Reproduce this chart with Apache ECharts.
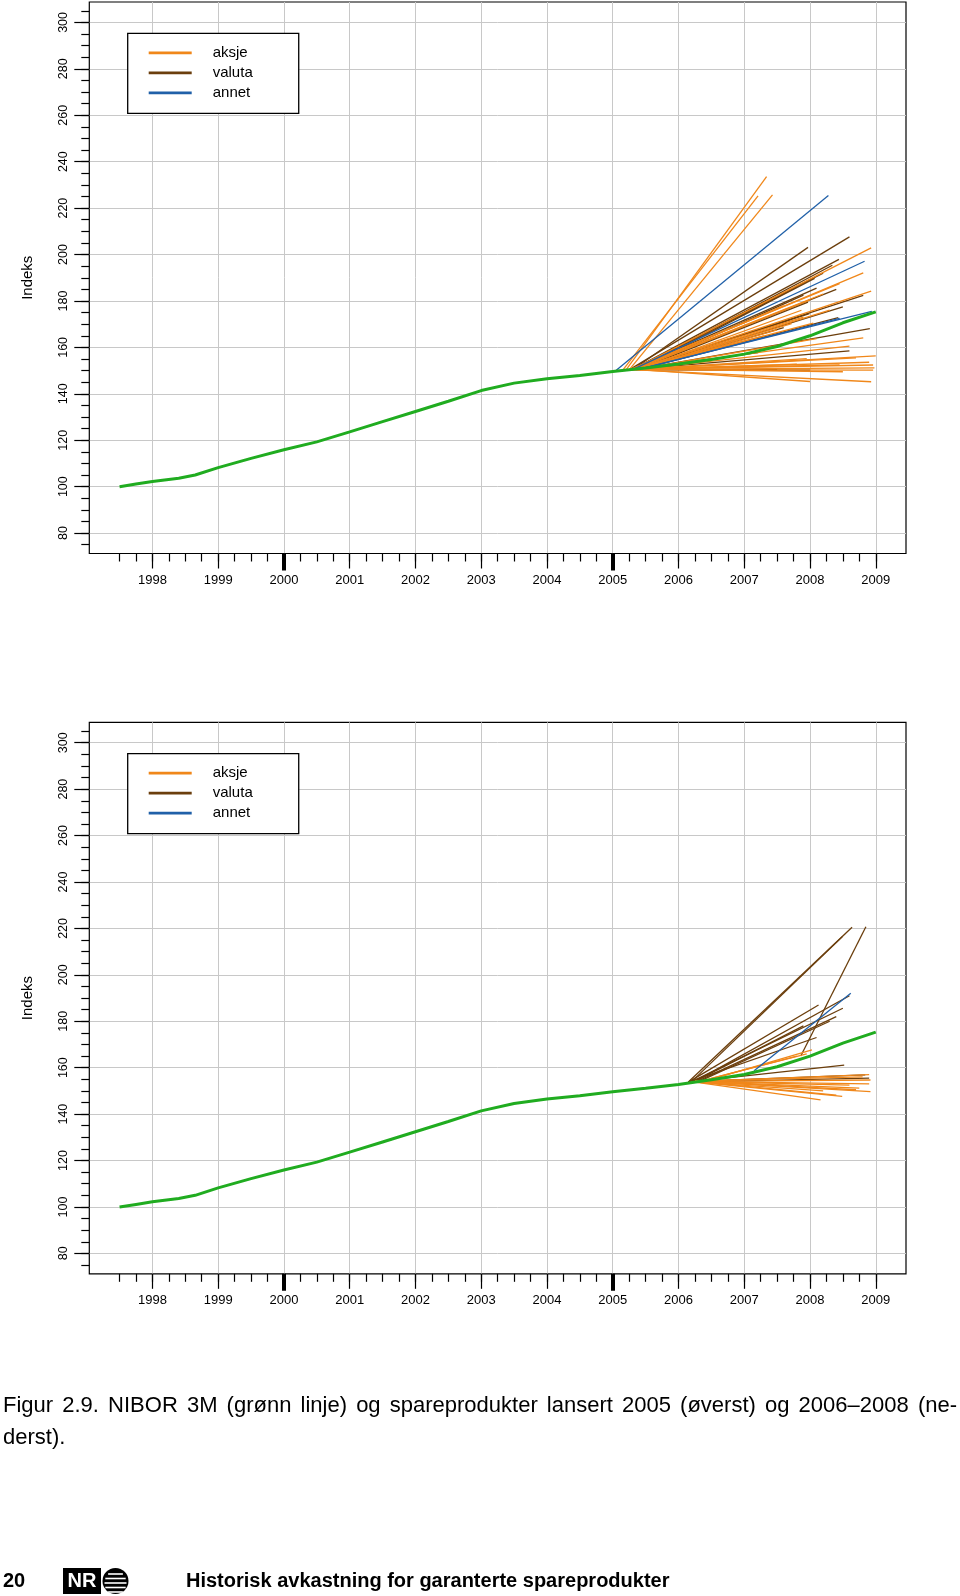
<!DOCTYPE html>
<html><head><meta charset="utf-8">
<script src="https://cdn.jsdelivr.net/npm/echarts@6/dist/echarts.min.js"></script>
<style>html,body{margin:0;padding:0;background:#fff}#c{width:960px;height:1596px}</style>
</head><body><div id="c"></div>
<script>
// ---------- DATA ----------
const yearTicks = [1998, 1999, 2000, 2001, 2002, 2003, 2004, 2005, 2006, 2007, 2008, 2009];
const boldYearTicks = [2000, 2005];
const yTicks = [80, 100, 120, 140, 160, 180, 200, 220, 240, 260, 280, 300];
const legendNames = ['aksje', 'valuta', 'annet'];

// NIBOR 3M index (green line): [year, index]
const nibor = [
  [1997.5, 100.0], [1997.75, 101.1], [1998.0, 102.2], [1998.4, 103.6], [1998.65, 105.0],
  [1999.0, 108.2], [1999.5, 112.2], [2000.0, 115.9], [2000.5, 119.3], [2001.0, 123.6],
  [2001.5, 128.0], [2002.0, 132.4], [2002.5, 136.8], [2003.0, 141.4], [2003.5, 144.6],
  [2004.0, 146.5], [2004.5, 147.9], [2005.0, 149.6], [2005.5, 151.1], [2006.0, 152.8],
  [2006.5, 154.8], [2007.0, 157.1], [2007.5, 160.4], [2008.0, 165.0], [2008.5, 170.6],
  [2009.0, 175.3]
];

// Products: [startYear, startValue, endYear, endValue]
const aksje2005 = [
  [2005.20, 150.2, 2007.34, 233.6], [2005.15, 150.1, 2007.21, 225.3], [2005.25, 150.3, 2007.43, 225.7],
  [2005.30, 150.4, 2008.93, 202.9], [2005.30, 150.4, 2008.81, 192.1], [2005.35, 150.5, 2008.93, 184.2],
  [2005.25, 150.3, 2008.45, 187.5], [2005.30, 150.4, 2008.20, 183.0], [2005.35, 150.5, 2008.00, 180.5],
  [2005.30, 150.4, 2007.60, 178.0], [2005.40, 150.6, 2007.87, 176.0], [2005.35, 150.5, 2008.05, 170.5],
  [2005.40, 150.6, 2007.72, 170.2], [2005.45, 150.8, 2007.50, 167.5], [2005.40, 150.6, 2008.81, 164.1],
  [2005.45, 150.8, 2008.10, 163.8], [2005.50, 151.0, 2008.60, 160.5],
  [2005.30, 150.4, 2007.30, 165.0], [2005.35, 150.5, 2007.00, 162.0], [2005.40, 150.6, 2008.30, 176.0],
  [2005.30, 150.4, 2007.90, 173.0],
  [2005.30, 150.4, 2009.00, 156.3], [2005.35, 150.5, 2008.70, 155.5], [2005.40, 150.6, 2007.95, 155.2],
  [2005.30, 150.4, 2008.90, 153.6], [2005.35, 150.5, 2008.96, 152.4], [2005.40, 150.6, 2008.45, 152.5],
  [2005.30, 150.4, 2008.98, 151.2], [2005.35, 150.5, 2007.80, 152.8], [2005.30, 150.4, 2008.96, 150.2],
  [2005.40, 150.6, 2008.50, 149.5], [2005.30, 150.4, 2008.93, 145.2], [2005.35, 150.5, 2008.00, 145.3]
];
const valuta2005 = [
  [2005.25, 150.3, 2008.60, 207.6], [2005.30, 150.4, 2007.97, 203.1], [2005.30, 150.4, 2008.44, 197.9],
  [2005.35, 150.5, 2008.34, 195.4], [2005.30, 150.4, 2008.20, 192.0], [2005.40, 150.6, 2008.07, 189.7],
  [2005.35, 150.5, 2007.80, 186.0], [2005.35, 150.5, 2008.40, 185.0], [2005.40, 150.6, 2007.90, 182.5],
  [2005.35, 150.5, 2008.81, 182.4], [2005.40, 150.6, 2007.97, 179.5], [2005.45, 150.8, 2008.50, 177.5],
  [2005.40, 150.6, 2007.99, 174.5], [2005.45, 150.8, 2008.43, 172.8], [2005.45, 150.8, 2007.60, 168.5],
  [2005.40, 150.6, 2008.91, 168.1], [2005.50, 151.0, 2008.60, 158.5], [2005.30, 150.4, 2007.21, 157.7],
  [2005.35, 150.5, 2007.70, 172.0], [2005.30, 150.4, 2008.10, 185.5],
  [2005.30, 150.4, 2008.00, 150.2], [2005.35, 150.5, 2007.50, 150.5]
];
const annet2005 = [
  [2005.04, 149.8, 2008.28, 225.4], [2005.30, 150.4, 2008.83, 197.1],
  [2005.45, 150.8, 2008.45, 172.5], [2005.40, 150.6, 2008.94, 175.5]
];

const aksje0608 = [
  [2006.60, 155.8, 2008.03, 167.7], [2006.50, 155.4, 2007.95, 166.0], [2006.40, 154.6, 2007.80, 165.0],
  [2006.25, 154.1, 2008.92, 154.7], [2006.25, 154.1, 2008.75, 151.2], [2006.25, 154.1, 2008.92, 149.7],
  [2006.20, 154.0, 2008.49, 147.6], [2006.20, 154.0, 2008.16, 146.1], [2006.25, 154.1, 2008.40, 148.2],
  [2006.25, 154.1, 2008.90, 153.0], [2006.25, 154.1, 2008.60, 152.5], [2006.30, 154.3, 2008.80, 156.0],
  [2006.20, 154.0, 2008.20, 150.0], [2006.25, 154.1, 2008.70, 150.5], [2006.25, 154.1, 2008.90, 157.0]
];
const valuta0608 = [
  [2006.15, 153.8, 2008.64, 220.5], [2006.20, 154.0, 2008.49, 216.4], [2007.86, 165.0, 2008.85, 220.7],
  [2006.15, 153.8, 2008.13, 187.0], [2006.20, 154.0, 2008.50, 185.6], [2006.25, 154.1, 2008.60, 191.0],
  [2006.15, 153.8, 2008.10, 173.0], [2006.25, 154.1, 2008.52, 161.1], [2006.25, 154.1, 2008.84, 156.9],
  [2006.30, 154.3, 2008.40, 182.0], [2006.25, 154.1, 2007.90, 178.0], [2006.35, 154.5, 2008.30, 180.0],
  [2006.15, 153.8, 2008.90, 155.5]
];
const annet0608 = [
  [2007.15, 158.7, 2008.62, 192.1]
];

const caption1 = 'Figur 2.9. NIBOR 3M (grønn linje) og spareprodukter lansert 2005 (øverst) og 2006–2008 (ne-';
const caption2 = 'derst).';
const footerPage = '20';
const footerTitle = 'Historisk avkastning for garanterte spareprodukter';

// ---------- STYLE / LAYOUT ----------
const FONT = '"Liberation Sans", Arial, Helvetica, sans-serif';
const COL = { aksje: '#F0871A', valuta: '#6B3E0C', annet: '#2060A8', nibor: '#20AC20' };
const X_MIN = 1997.04, X_MAX = 2009.46;
const Y_MIN = 71.2, Y_MAX = 308.8;
const GRID_LEFT = 89.3, GRID_W = 816.7, GRID_H = 551.5;
const PANEL_TOPS = [2, 722.3];

const quarterTicks = [];
for (let q = 1997.5; q <= 2009.001; q += 0.25) quarterTicks.push(+q.toFixed(2));
const minorY = [];
for (let v = 75; v <= 305; v += 5) minorY.push(v);

const grids = [], xAxes = [], yAxes = [], series = [], legends = [];
PANEL_TOPS.forEach((top, p) => {
  grids.push({ left: GRID_LEFT, top: top, width: GRID_W, height: GRID_H, show: true,
    borderColor: '#000', borderWidth: 1.2, backgroundColor: 'transparent' });
  const base = { gridIndex: p, type: 'value', min: X_MIN, max: X_MAX, position: 'bottom',
    axisLine: { show: false } };
  xAxes.push(Object.assign({}, base, {
    axisTick: { show: true, length: 15, customValues: yearTicks, lineStyle: { color: '#000', width: 1.2 } },
    axisLabel: { show: true, customValues: yearTicks, margin: 20.5, fontSize: 13, color: '#000', fontFamily: FONT,
      formatter: v => String(v) },
    splitLine: { show: true, lineStyle: { color: '#c8c8c8', width: 1 } }
  }));
  xAxes.push(Object.assign({}, base, {
    axisTick: { show: true, length: 8, customValues: quarterTicks, lineStyle: { color: '#000', width: 1.2 } },
    axisLabel: { show: false }, splitLine: { show: false }
  }));
  xAxes.push(Object.assign({}, base, {
    axisTick: { show: true, length: 17, customValues: boldYearTicks, lineStyle: { color: '#000', width: 4 } },
    axisLabel: { show: false }, splitLine: { show: false }
  }));
  const ybase = { gridIndex: p, type: 'value', min: Y_MIN, max: Y_MAX, position: 'left', axisLine: { show: false } };
  yAxes.push(Object.assign({}, ybase, {
    name: 'Indeks', nameLocation: 'middle', nameGap: 54,
    nameTextStyle: { fontSize: 15, color: '#000', fontFamily: FONT },
    axisTick: { show: true, length: 15, customValues: yTicks, lineStyle: { color: '#000', width: 1.2 } },
    axisLabel: { show: true, customValues: yTicks, rotate: 90, margin: 19.5, fontSize: 12.5, color: '#000', fontFamily: FONT,
      formatter: v => String(v) },
    splitLine: { show: true, lineStyle: { color: '#c8c8c8', width: 1 } }
  }));
  yAxes.push(Object.assign({}, ybase, {
    axisTick: { show: true, length: 8, customValues: minorY, lineStyle: { color: '#000', width: 1.2 } },
    axisLabel: { show: false }, splitLine: { show: false }
  }));

  const groups = p === 0
    ? [['valuta', valuta2005], ['aksje', aksje2005], ['annet', annet2005]]
    : [['valuta', valuta0608], ['aksje', aksje0608], ['annet', annet0608]];
  groups.forEach(([name, arr], gi) => {
    series.push({
      type: 'lines', name: name, coordinateSystem: 'cartesian2d', xAxisIndex: p * 3, yAxisIndex: p * 2,
      silent: true, z: 3 + gi,
      lineStyle: { color: COL[name], width: 1.3, opacity: 1 },
      data: arr.map(d => ({ coords: [[d[0], d[1]], [d[2], d[3]]] }))
    });
  });
  series.push({
    type: 'line', name: 'NIBOR 3M', xAxisIndex: p * 3, yAxisIndex: p * 2, data: nibor,
    showSymbol: false, symbol: 'none', silent: true, z: 10,
    lineStyle: { color: COL.nibor, width: 3 }, itemStyle: { color: COL.nibor }
  });

  legends.push({
    left: 127.7, top: top + 31.3, orient: 'vertical', selectedMode: false,
    backgroundColor: '#fff', borderColor: '#000', borderWidth: 1.3,
    padding: [12, 46, 13, 21], itemGap: 5, itemWidth: 59, itemHeight: 15,
    textStyle: { fontSize: 15, color: '#000', fontFamily: FONT },
    data: legendNames.map(n => ({
      name: n,
      icon: 'path://M0,0M0,6.1h43v2.8h-43zM59,15',
      itemStyle: { color: COL[n], borderWidth: 0 }
    }))
  });
});

// ---------- caption & footer ----------
const graphic = [];
const capSize = 22;
const ctx = document.createElement('canvas').getContext('2d');
ctx.font = capSize + 'px ' + FONT;
const words = caption1.split(' ');
const widths = words.map(w => ctx.measureText(w).width);
const totalW = widths.reduce((a, b) => a + b, 0);
const CAP_L = 3, CAP_R = 957;
const gap = (CAP_R - CAP_L - totalW) / (words.length - 1);
let cx = CAP_L;
words.forEach((w, i) => {
  graphic.push({ type: 'text', x: cx, y: 1405.5, silent: true,
    style: { text: w, fontSize: capSize, fontFamily: FONT, fill: '#000', verticalAlign: 'middle', align: 'left' } });
  cx += widths[i] + gap;
});
graphic.push({ type: 'text', x: CAP_L, y: 1438, silent: true,
  style: { text: caption2, fontSize: capSize, fontFamily: FONT, fill: '#000', verticalAlign: 'middle', align: 'left' } });

graphic.push({ type: 'text', x: 3, y: 1581, silent: true,
  style: { text: footerPage, fontSize: 20, fontWeight: 'bold', fontFamily: FONT, fill: '#000', verticalAlign: 'middle' } });
graphic.push({ type: 'text', x: 186, y: 1581, silent: true,
  style: { text: footerTitle, fontSize: 20, fontWeight: 'bold', fontFamily: FONT, fill: '#000', verticalAlign: 'middle' } });
// NR logo
graphic.push({ type: 'rect', silent: true, shape: { x: 63, y: 1568, width: 38, height: 26 }, style: { fill: '#000' } });
graphic.push({ type: 'text', x: 82, y: 1581.5, silent: true,
  style: { text: 'NR', fontSize: 20, fontWeight: 'bold', fontFamily: FONT, fill: '#fff', align: 'center', verticalAlign: 'middle' } });
const gcx = 115.5, gcy = 1581, gr = 13;
graphic.push({ type: 'circle', silent: true, shape: { cx: gcx, cy: gcy, r: gr }, style: { fill: '#000' } });
[-9, -4.5, 0, 4.5, 9].forEach(dy => {
  const hw = Math.sqrt(gr * gr - dy * dy) - 2;
  graphic.push({ type: 'line', silent: true, shape: { x1: gcx - hw, y1: gcy + dy + 2, x2: gcx + hw, y2: gcy + dy + 2 },
    style: { stroke: '#fff', lineWidth: 1.6 } });
});

const chart = echarts.init(document.getElementById('c'), null, { renderer: 'canvas' });
chart.setOption({
  animation: false,
  backgroundColor: '#fff',
  textStyle: { fontFamily: FONT },
  grid: grids, xAxis: xAxes, yAxis: yAxes, legend: legends, series: series, graphic: graphic
});
</script></body></html>
